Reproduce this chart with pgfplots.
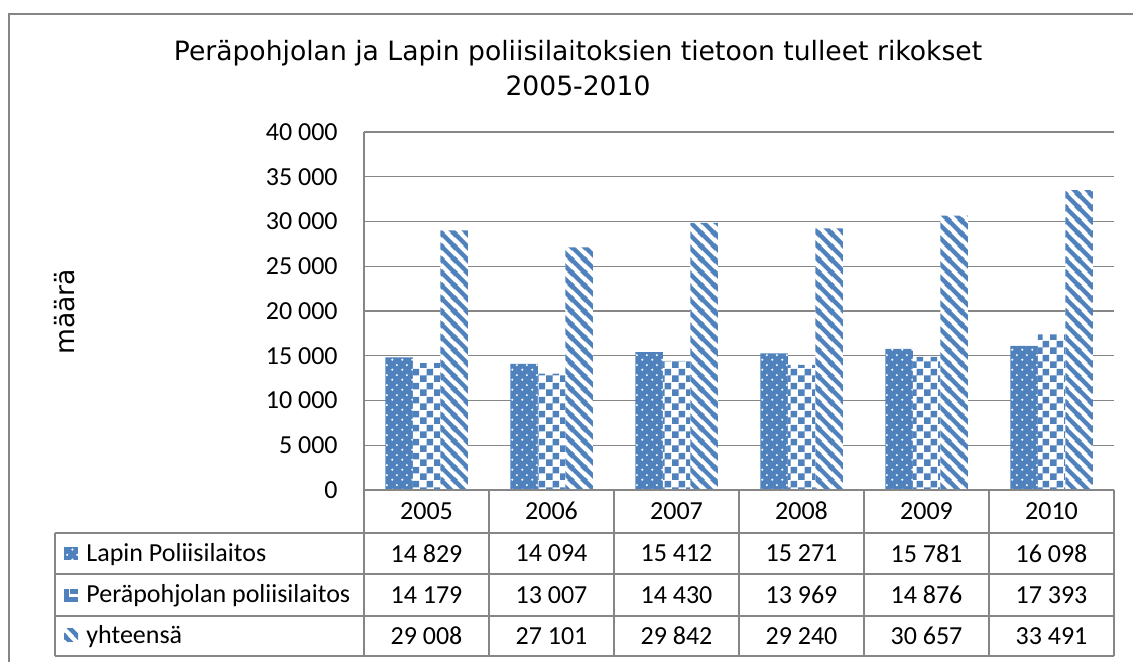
\documentclass[border=0pt]{standalone}
\usepackage{pgfplots}
\pgfplotsset{compat=1.18}
\usepackage{fontspec}
\setmainfont{Carlito}
\newfontfamily\dejavu{DejaVu Sans}
\usetikzlibrary{patterns.meta}
\definecolor{barblue}{RGB}{79,129,189}
\definecolor{linegray}{RGB}{134,134,134}

\pgfdeclarepattern{
  name=mystripes, type=uncolored,
  bottom left={\pgfpoint{0pt}{0pt}},
  top right={\pgfpoint{6.5pt}{6.5pt}},
  tile size={\pgfpoint{6.5pt}{6.5pt}},
  code={
    \pgfsetlinewidth{2.3pt}
    \pgfpathmoveto{\pgfpoint{-1pt}{7.5pt}}\pgfpathlineto{\pgfpoint{7.5pt}{-1pt}}
    \pgfpathmoveto{\pgfpoint{-3.25pt}{3.25pt}}\pgfpathlineto{\pgfpoint{3.25pt}{-3.25pt}}
    \pgfpathmoveto{\pgfpoint{3.25pt}{9.75pt}}\pgfpathlineto{\pgfpoint{9.75pt}{3.25pt}}
    \pgfusepath{stroke}
  }
}
\pgfdeclarepattern{
  name=mydots, type=uncolored,
  bottom left={\pgfpoint{0pt}{0pt}},
  top right={\pgfpoint{5pt}{5pt}},
  tile size={\pgfpoint{5pt}{5pt}},
  code={
    \pgfpathcircle{\pgfpoint{1.25pt}{1.25pt}}{0.65pt}
    \pgfpathcircle{\pgfpoint{3.75pt}{3.75pt}}{0.65pt}
    \pgfusepath{fill}
  }
}
\pgfdeclarepattern{
  name=mychecker, type=uncolored,
  bottom left={\pgfpoint{0pt}{0pt}},
  top right={\pgfpoint{7pt}{7pt}},
  tile size={\pgfpoint{7pt}{7pt}},
  code={
    \pgfpathrectangle{\pgfpoint{0pt}{0pt}}{\pgfpoint{3.5pt}{3.5pt}}
    \pgfpathrectangle{\pgfpoint{3.5pt}{3.5pt}}{\pgfpoint{3.5pt}{3.5pt}}
    \pgfusepath{fill}
  }
}

\pgfplotstableread{
x     lapin  pera   yht
0.5   14829  14179  29008
1.5   14094  13007  27101
2.5   15412  14430  29842
3.5   15271  13969  29240
4.5   15781  14876  30657
5.5   16098  17393  33491
}\datatable

\begin{document}
\begin{tikzpicture}[x=0.5pt,y=0.5pt]
\path[use as bounding box] (0,0) rectangle (1133,662);
% outer frame (left and top only visible)
\draw[linegray, line width=0.8pt] (9,0) -- (9,648) -- (1133,648);
% title
\node[font=\dejavu\fontsize{13.3}{17.5}\selectfont, align=center] at (578,594)
  {Peräpohjolan ja Lapin poliisilaitoksien tietoon tulleet rikokset\\2005-2010};
\node[font=\dejavu\fontsize{13.3}{16}\selectfont, rotate=90] at (65,350) {määrä};

\begin{axis}[
  at={(182pt,86pt)}, anchor=origin,
  scale only axis, width=375pt, height=179pt,
  xmin=0, xmax=6, ymin=0, ymax=40000,
  ybar, bar width=0.22,
  xtick=\empty,
  scaled y ticks=false,
  ytick={0,5000,...,40000},
  yticklabels={0,5 000,10 000,15 000,20 000,25 000,30 000,35 000,40 000},
  yticklabel style={font=\fontsize{13}{15}\selectfont, inner sep=0pt, xshift=-13pt},
  major tick length=0pt,
  axis line style={draw=none},
  ymajorgrids, grid style={linegray, line width=0.65pt},
]
\addplot[fill=barblue, draw=none, bar shift=-0.22] table[x=x,y=lapin] {\datatable};
\addplot[pattern=mydots, pattern color=white, draw=none, bar shift=-0.22] table[x=x,y=lapin] {\datatable};
\addplot[fill=white, draw=none, bar shift=0] table[x=x,y=pera] {\datatable};
\addplot[pattern=mychecker, pattern color=barblue, draw=none, bar shift=0] table[x=x,y=pera] {\datatable};
\addplot[fill=white, draw=none, bar shift=0.22] table[x=x,y=yht] {\datatable};
\addplot[pattern=mystripes, pattern color=barblue, draw=none, bar shift=0.22] table[x=x,y=yht] {\datatable};
\end{axis}

% axis lines and data table
\begin{scope}[linegray, line width=0.65pt]
\draw (364,530) -- (364,6);
\draw (364,172) -- (1114,172);
\draw (55,129) -- (1114,129);
\draw (55,88) -- (1114,88);
\draw (55,46) -- (1114,46);
\draw (55,6) -- (1114,6);
\draw (55,129) -- (55,6);
\foreach \k in {1,...,6} { \draw ({364+125*\k},172) -- ({364+125*\k},6); }
\end{scope}

\begin{scope}[font=\fontsize{13}{15}\selectfont]
\foreach \yr [count=\i from 0] in {2005,2006,2007,2008,2009,2010}
  { \node at ({426.5+125*\i},151) {\yr}; }
\foreach \v [count=\i from 0] in {14 829,14 094,15 412,15 271,15 781,16 098}
  { \node at ({426.5+125*\i},108.5) {\v}; }
\foreach \v [count=\i from 0] in {14 179,13 007,14 430,13 969,14 876,17 393}
  { \node at ({426.5+125*\i},67) {\v}; }
\foreach \v [count=\i from 0] in {29 008,27 101,29 842,29 240,30 657,33 491}
  { \node at ({426.5+125*\i},26) {\v}; }
\node[anchor=west, inner sep=0pt] at (86,107) {Lapin Poliisilaitos};
\node[anchor=west, inner sep=0pt] at (86,66) {Peräpohjolan poliisilaitos};
\node[anchor=west, inner sep=0pt] at (86,25) {yhteensä};
\end{scope}
% legend swatches
\fill[barblue] (64,102) rectangle (78,115);
\fill[pattern=mydots, pattern color=white] (64,102) rectangle (78,115);
\fill[barblue] (64,60) rectangle (69,73);
\fill[barblue] (64,60) rectangle (78,65);
\fill[barblue] (70,68) rectangle (78,73);
\fill[pattern=mystripes, pattern color=barblue] (64,20) rectangle (78,33);
\end{tikzpicture}
\end{document}
